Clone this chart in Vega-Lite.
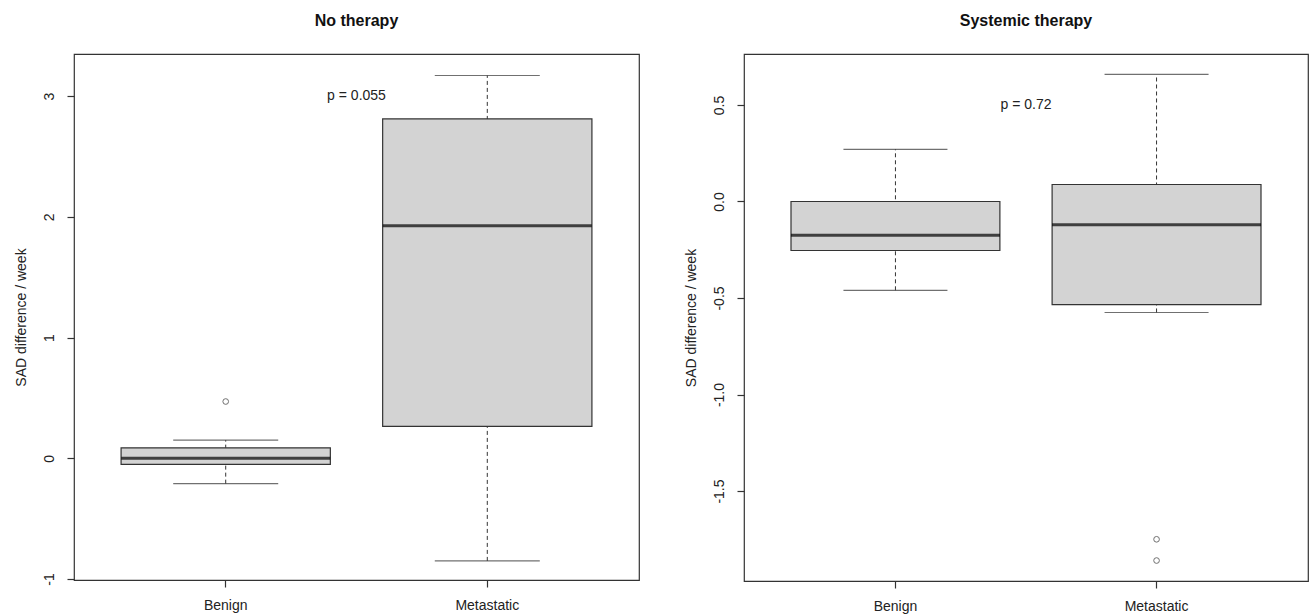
{
  "$schema": "https://vega.github.io/schema/vega-lite/v6.json",
  "background": "white",
  "padding": {"left": 13, "top": 12, "right": 0, "bottom": 0},
  "bounds": "flush",
  "spacing": 105,
  "datasets": {
    "boxes": [
      {"panel": "No therapy", "group": "Benign", "lower": -0.21, "q1": -0.05, "median": 0.0, "q3": 0.087, "upper": 0.15},
      {"panel": "No therapy", "group": "Metastatic", "lower": -0.85, "q1": 0.265, "median": 1.925, "q3": 2.81, "upper": 3.17},
      {"panel": "Systemic therapy", "group": "Benign", "lower": -0.46, "q1": -0.254, "median": -0.175, "q3": 0.0, "upper": 0.27},
      {"panel": "Systemic therapy", "group": "Metastatic", "lower": -0.575, "q1": -0.534, "median": -0.12, "q3": 0.088, "upper": 0.658}
    ],
    "outliers": [
      {"panel": "No therapy", "group": "Benign", "value": 0.47},
      {"panel": "Systemic therapy", "group": "Metastatic", "value": -1.75},
      {"panel": "Systemic therapy", "group": "Metastatic", "value": -1.86}
    ],
    "notes": [
      {"panel": "No therapy", "group": "Benign", "value": 3.0, "label": "p = 0.055"},
      {"panel": "Systemic therapy", "group": "Benign", "value": 0.5, "label": "p = 0.72"}
    ]
  },
  "config": {
    "font": "Liberation Sans",
    "view": {"stroke": "#333", "strokeWidth": 1.2},
    "axis": {
      "grid": false,
      "domain": false,
      "tickColor": "#333",
      "tickSize": 7,
      "tickWidth": 1.2,
      "labelFont": "Liberation Sans",
      "labelFontSize": 14,
      "labelColor": "#222",
      "titleFont": "Liberation Sans",
      "titleFontSize": 14,
      "titleFontWeight": "normal",
      "titleColor": "#222"
    },
    "title": {"font": "Liberation Sans", "fontSize": 16, "fontWeight": "bold", "color": "#111", "anchor": "middle", "offset": 25}
  },
  "hconcat": [
    {
      "title": "No therapy",
      "width": 565,
      "height": 526,
      "layer": [
        {
          "data": {"name": "boxes"},
          "transform": [{"filter": "datum.panel === 'No therapy'"}],
          "mark": {"type": "rule", "strokeDash": [4, 3], "color": "#333", "strokeWidth": 1},
          "encoding": {
            "x": {"field": "group", "type": "nominal", "scale": {"domain": ["Benign", "Metastatic"], "paddingInner": 0, "paddingOuter": 0.08},
                  "axis": {"title": null, "labelAngle": 0, "labelPadding": 11}},
            "y": {"field": "lower", "type": "quantitative", "scale": {"domain": [-1.008, 3.348], "nice": false, "zero": false},
                  "axis": {"title": "SAD difference / week", "values": [-1, 0, 1, 2, 3], "labelExpr": "replace(format(datum.value, 'd'), '\u2212', '-')", "labelAngle": -90, "labelAlign": "center", "labelBaseline": "bottom", "labelPadding": 11, "titlePadding": 14}},
            "y2": {"field": "upper"}
          }
        },
        {
          "data": {"name": "boxes"},
          "transform": [{"filter": "datum.panel === 'No therapy'"}],
          "mark": {"type": "tick", "orient": "horizontal", "size": 105, "thickness": 1.2, "color": "#333"},
          "encoding": {"x": {"field": "group", "type": "nominal"}, "y": {"field": "upper", "type": "quantitative"}}
        },
        {
          "data": {"name": "boxes"},
          "transform": [{"filter": "datum.panel === 'No therapy'"}],
          "mark": {"type": "tick", "orient": "horizontal", "size": 105, "thickness": 1.2, "color": "#333"},
          "encoding": {"x": {"field": "group", "type": "nominal"}, "y": {"field": "lower", "type": "quantitative"}}
        },
        {
          "data": {"name": "boxes"},
          "transform": [{"filter": "datum.panel === 'No therapy'"}],
          "mark": {"type": "bar", "width": {"band": 0.8}, "fill": "#d3d3d3", "stroke": "#333", "strokeWidth": 1.2},
          "encoding": {"x": {"field": "group", "type": "nominal"}, "y": {"field": "q1", "type": "quantitative"}, "y2": {"field": "q3"}}
        },
        {
          "data": {"name": "boxes"},
          "transform": [{"filter": "datum.panel === 'No therapy'"}],
          "mark": {"type": "tick", "orient": "horizontal", "size": 209, "thickness": 3, "color": "#000"},
          "encoding": {"x": {"field": "group", "type": "nominal"}, "y": {"field": "median", "type": "quantitative"}}
        },
        {
          "data": {"name": "outliers"},
          "transform": [{"filter": "datum.panel === 'No therapy'"}],
          "mark": {"type": "point", "shape": "circle", "filled": false, "size": 32, "stroke": "#333", "strokeWidth": 1},
          "encoding": {"x": {"field": "group", "type": "nominal"}, "y": {"field": "value", "type": "quantitative"}}
        },
        {
          "data": {"name": "notes"},
          "transform": [{"filter": "datum.panel === 'No therapy'"}],
          "mark": {"type": "text", "fontSize": 14, "color": "#222", "align": "center", "baseline": "middle"},
          "encoding": {"x": {"field": "group", "type": "nominal", "bandPosition": 1}, "y": {"field": "value", "type": "quantitative"}, "text": {"field": "label"}}
        }
      ]
    },
    {
      "title": "Systemic therapy",
      "width": 564,
      "height": 527,
      "layer": [
        {
          "data": {"name": "boxes"},
          "transform": [{"filter": "datum.panel === 'Systemic therapy'"}],
          "mark": {"type": "rule", "strokeDash": [4, 3], "color": "#333", "strokeWidth": 1},
          "encoding": {
            "x": {"field": "group", "type": "nominal", "scale": {"domain": ["Benign", "Metastatic"], "paddingInner": 0, "paddingOuter": 0.08},
                  "axis": {"title": null, "labelAngle": 0, "labelPadding": 11}},
            "y": {"field": "lower", "type": "quantitative", "scale": {"domain": [-1.966, 0.764], "nice": false, "zero": false},
                  "axis": {"title": "SAD difference / week", "values": [-1.5, -1, -0.5, 0, 0.5], "labelExpr": "replace(format(datum.value, '.1f'), '\u2212', '-')", "labelAngle": -90, "labelAlign": "center", "labelBaseline": "bottom", "labelPadding": 11, "titlePadding": 14}},
            "y2": {"field": "upper"}
          }
        },
        {
          "data": {"name": "boxes"},
          "transform": [{"filter": "datum.panel === 'Systemic therapy'"}],
          "mark": {"type": "tick", "orient": "horizontal", "size": 104, "thickness": 1.2, "color": "#333"},
          "encoding": {"x": {"field": "group", "type": "nominal"}, "y": {"field": "upper", "type": "quantitative"}}
        },
        {
          "data": {"name": "boxes"},
          "transform": [{"filter": "datum.panel === 'Systemic therapy'"}],
          "mark": {"type": "tick", "orient": "horizontal", "size": 104, "thickness": 1.2, "color": "#333"},
          "encoding": {"x": {"field": "group", "type": "nominal"}, "y": {"field": "lower", "type": "quantitative"}}
        },
        {
          "data": {"name": "boxes"},
          "transform": [{"filter": "datum.panel === 'Systemic therapy'"}],
          "mark": {"type": "bar", "width": {"band": 0.8}, "fill": "#d3d3d3", "stroke": "#333", "strokeWidth": 1.2},
          "encoding": {"x": {"field": "group", "type": "nominal"}, "y": {"field": "q1", "type": "quantitative"}, "y2": {"field": "q3"}}
        },
        {
          "data": {"name": "boxes"},
          "transform": [{"filter": "datum.panel === 'Systemic therapy'"}],
          "mark": {"type": "tick", "orient": "horizontal", "size": 209, "thickness": 3, "color": "#000"},
          "encoding": {"x": {"field": "group", "type": "nominal"}, "y": {"field": "median", "type": "quantitative"}}
        },
        {
          "data": {"name": "outliers"},
          "transform": [{"filter": "datum.panel === 'Systemic therapy'"}],
          "mark": {"type": "point", "shape": "circle", "filled": false, "size": 32, "stroke": "#333", "strokeWidth": 1},
          "encoding": {"x": {"field": "group", "type": "nominal"}, "y": {"field": "value", "type": "quantitative"}}
        },
        {
          "data": {"name": "notes"},
          "transform": [{"filter": "datum.panel === 'Systemic therapy'"}],
          "mark": {"type": "text", "fontSize": 14, "color": "#222", "align": "center", "baseline": "middle"},
          "encoding": {"x": {"field": "group", "type": "nominal", "bandPosition": 1}, "y": {"field": "value", "type": "quantitative"}, "text": {"field": "label"}}
        }
      ]
    }
  ]
}
